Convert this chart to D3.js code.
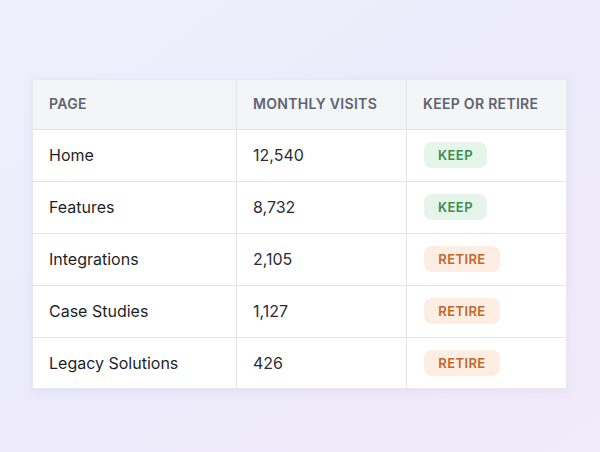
<!DOCTYPE html>
<html><head><meta charset="utf-8">
<script src="https://cdn.jsdelivr.net/npm/d3@7"></script>
<style>body{margin:0;}</style></head>
<body><svg id="c" width="600" height="452"></svg>
<script>
const headers = ["PAGE", "MONTHLY VISITS", "KEEP OR RETIRE"];
const pages = ["Home", "Features", "Integrations", "Case Studies", "Legacy Solutions"];
const visits = [12540, 8732, 2105, 1127, 426];
const status = ["KEEP", "KEEP", "RETIRE", "RETIRE", "RETIRE"];

const svg = d3.select("#c");
const defs = svg.append("defs");
const g1 = defs.append("linearGradient").attr("id","bg").attr("x1","0").attr("y1","0").attr("x2","1").attr("y2","1");
g1.append("stop").attr("offset","0").attr("stop-color","#eef1fb");
g1.append("stop").attr("offset","0.5").attr("stop-color","#eceafb");
g1.append("stop").attr("offset","1").attr("stop-color","#f1ebfa");
svg.append("rect").attr("width",600).attr("height",452).attr("fill","url(#bg)");
const sh = defs.append("filter").attr("id","sh").attr("x","-10%").attr("y","-10%").attr("width","120%").attr("height","130%");
sh.append("feDropShadow").attr("dx",0).attr("dy",2).attr("stdDeviation",4).attr("flood-color","#8080b0").attr("flood-opacity",0.12);

const colEdges = [32, 236, 406, 567];
const x = d3.scaleOrdinal().domain(headers).range(colEdges.slice(0,3));
const tableTop = 79, headH = 50;
const y = d3.scaleBand().domain(pages).range([129, 389]);
const font = "Inter, 'Noto Sans', sans-serif";

svg.append("rect").attr("x",32).attr("y",tableTop).attr("width",535).attr("height",310).attr("fill","#fff").attr("filter","url(#sh)");
svg.append("rect").attr("x",32).attr("y",tableTop).attr("width",535).attr("height",headH).attr("fill","#f4f5f7");
svg.selectAll(".hl").data(pages).enter().append("line")
  .attr("x1",32).attr("x2",567).attr("y1",d=>y(d)+0.5).attr("y2",d=>y(d)+0.5).attr("stroke","#e4e5e9");
svg.selectAll(".vl").data(headers.slice(1)).enter().append("line")
  .attr("x1",d=>x(d)+0.5).attr("x2",d=>x(d)+0.5).attr("y1",tableTop).attr("y2",389).attr("stroke","#e4e5e9");
svg.append("rect").attr("x",32.5).attr("y",tableTop+0.5).attr("width",534).attr("height",309).attr("fill","none").attr("stroke","#e8e9ee");

svg.selectAll(".h").data(headers).enter().append("text")
  .attr("x",d=>x(d)+17).attr("y",tableTop+headH/2+5).text(d=>d)
  .attr("font-family",font).attr("font-size",14).attr("font-weight",600).attr("fill","#5d6371").attr("letter-spacing",0.3);

const fmt = d3.format(",");
pages.forEach((p,i)=>{
  const cy = y(p)+y.bandwidth()/2;
  svg.append("text").attr("x",x(headers[0])+17).attr("y",cy+6).text(p)
    .attr("font-family",font).attr("font-size",16).attr("fill","#1c1f2a");
  svg.append("text").attr("x",x(headers[1])+17).attr("y",cy+6).text(fmt(visits[i]))
    .attr("font-family",font).attr("font-size",16).attr("fill","#2a2d38");
  const keep = status[i]==="KEEP";
  const w = keep ? 63 : 76;
  svg.append("rect").attr("x",x(headers[2])+18).attr("y",cy-13).attr("width",w).attr("height",26).attr("rx",8)
    .attr("fill", keep ? "#e5f5e9" : "#fdede2");
  svg.append("text").attr("x",x(headers[2])+18+w/2).attr("y",cy+5).attr("text-anchor","middle").text(status[i])
    .attr("font-family",font).attr("font-size",13).attr("font-weight",600).attr("letter-spacing",0.4)
    .attr("fill", keep ? "#3d8d4f" : "#c0692a");
});
</script></body></html>
